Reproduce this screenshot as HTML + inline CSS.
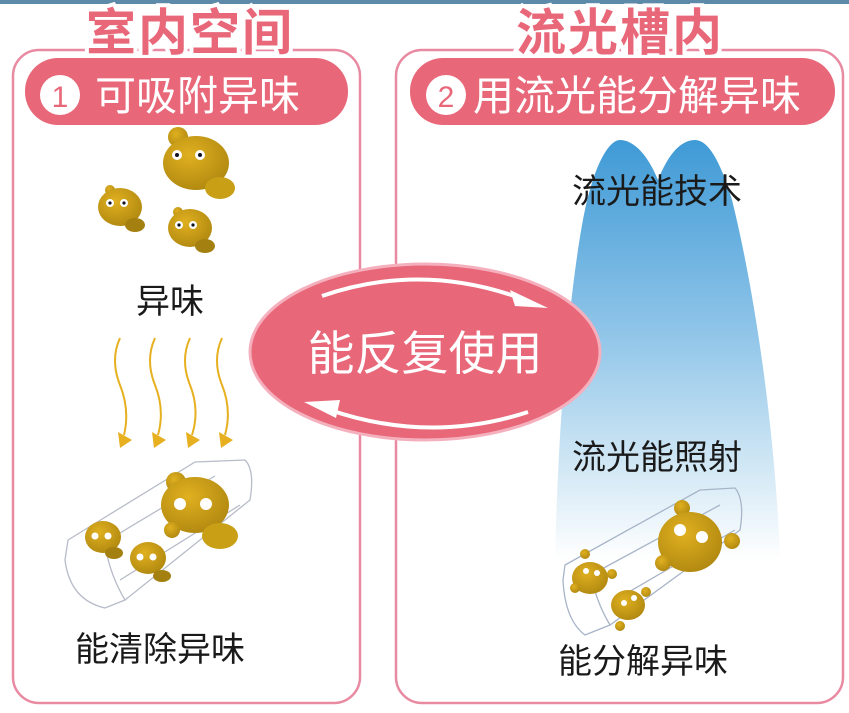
<!DOCTYPE html>
<html><head><meta charset="utf-8"><style>
html,body{margin:0;padding:0;background:#fff;width:849px;height:713px;overflow:hidden}
text{font-family:"Liberation Sans","Noto Sans CJK SC",sans-serif}
</style></head><body>
<svg width="849" height="713" viewBox="0 0 849 713" xmlns="http://www.w3.org/2000/svg">
<defs>
<linearGradient id="blue" x1="0" y1="0" x2="0" y2="1">
<stop offset="0" stop-color="#3f9ad6"/><stop offset="0.45" stop-color="#8ec4e8"/><stop offset="0.8" stop-color="#d6eaf6"/><stop offset="1" stop-color="#ffffff"/></linearGradient>
<radialGradient id="gold" cx="0.4" cy="0.35" r="0.7"><stop offset="0" stop-color="#e0b020"/><stop offset="1" stop-color="#b08810"/></radialGradient>
</defs>
<rect x="0" y="0" width="849" height="4" fill="#5d8aa8"/>
<rect x="13" y="50" width="347" height="653" rx="26" fill="none" stroke="#e98aa3" stroke-width="2.5"/>
<rect x="396" y="50" width="447" height="653" rx="26" fill="none" stroke="#e98aa3" stroke-width="2.5"/>
<g font-size="50" font-weight="bold" text-anchor="middle" fill="#e8687a" stroke="#fff" stroke-width="8" paint-order="stroke" letter-spacing="2">
<text x="190" y="50">室内空间</text>
<text x="620" y="50">流光槽内</text>
</g>
<rect x="25" y="58" width="323" height="67" rx="33" fill="#e8687a"/>
<circle cx="60" cy="95" r="20" fill="#fff"/>
<text x="60" y="107" font-size="30" fill="#e8687a" text-anchor="middle">1</text>
<text x="95" y="110" font-size="41" fill="#fff">可吸附异味</text>
<rect x="410" y="58" width="425" height="67" rx="33" fill="#e8687a"/>
<circle cx="446" cy="95" r="20" fill="#fff"/>
<text x="446" y="107" font-size="30" fill="#e8687a" text-anchor="middle">2</text>
<text x="473" y="110" font-size="41" fill="#fff">用流光能分解异味</text>
<path d="M555,560 C560,350 580,220 590,190 C598,160 610,140 620,140 C636,140 650,160 658,180 C666,160 678,140 695,140 C708,140 720,160 732,200 C752,280 775,420 780,560 Z" fill="url(#blue)"/>
<ellipse cx="425" cy="352" rx="175" ry="88" fill="#e8687a" stroke="#f5b0bd" stroke-width="3"/>
<path d="M322,296 Q420,262 520,298" fill="none" stroke="#fff" stroke-width="4"/>
<polygon points="548,308 510,290 515,306" fill="#fff"/>
<path d="M528,412 Q430,444 330,410" fill="none" stroke="#fff" stroke-width="4"/>
<polygon points="304,402 340,400 336,418" fill="#fff"/>
<text x="425" y="370" font-size="47" fill="#fff" text-anchor="middle">能反复使用</text>
<g font-size="34" fill="#1a1a1a" text-anchor="middle">
<text x="170" y="313">异味</text>
<text x="160" y="661">能清除异味</text>
<text x="657" y="203">流光能技术</text>
<text x="657" y="469">流光能照射</text>
<text x="643" y="673">能分解异味</text>
</g>
<g fill="none" stroke="#e6b020" stroke-width="2">
<path d="M120,338 Q110,360 120,385 Q130,410 124,435"/>
<path d="M155,338 Q145,360 155,385 Q165,410 158,435"/>
<path d="M190,338 Q180,360 190,385 Q200,410 192,435"/>
<path d="M222,338 Q212,360 222,385 Q232,410 225,435"/>
</g>
<g fill="#e6b020">
<polygon points="118,432 132,440 120,448"/><polygon points="152,432 166,440 154,448"/>
<polygon points="186,432 200,440 188,448"/><polygon points="219,432 233,440 221,448"/>
</g>
<g fill="url(#gold)">
<circle cx="178" cy="137" r="10"/><ellipse cx="196" cy="163" rx="33" ry="27"/><ellipse cx="220" cy="188" rx="15" ry="11" fill="#c9a015"/>
<circle cx="110" cy="190" r="5"/><ellipse cx="120" cy="207" rx="22" ry="19"/><ellipse cx="135" cy="225" rx="10" ry="7" fill="#a48010"/>
<circle cx="178" cy="212" r="5"/><ellipse cx="190" cy="228" rx="22" ry="19"/><ellipse cx="205" cy="246" rx="10" ry="7" fill="#a48010"/>
</g>
<g fill="#fff"><circle cx="177" cy="155" r="5"/><circle cx="200" cy="155" r="5"/><circle cx="110" cy="203" r="4"/><circle cx="124" cy="203" r="4"/><circle cx="179" cy="225" r="4"/><circle cx="193" cy="225" r="4"/></g>
<g fill="#112"><circle cx="177" cy="155" r="2"/><circle cx="200" cy="155" r="2"/><circle cx="110" cy="203" r="1.6"/><circle cx="124" cy="203" r="1.6"/><circle cx="179" cy="225" r="1.6"/><circle cx="193" cy="225" r="1.6"/></g>
<g fill="none" stroke="#b8bcc8" stroke-width="1.3">
<path d="M68,540 L195,462 L245,460 Q255,470 250,500 L125,600 L105,608 Q70,600 65,560 Z"/>
<path d="M100,545 L215,476"/><path d="M125,600 Q110,575 105,545"/>
<path d="M120,580 L240,505"/>
</g>
<g fill="url(#gold)">
<circle cx="176" cy="482" r="10"/><ellipse cx="195" cy="505" rx="34" ry="28"/><ellipse cx="220" cy="536" rx="18" ry="13" fill="#c9a015"/><circle cx="172" cy="530" r="8"/>
<ellipse cx="103" cy="537" rx="18" ry="16"/><ellipse cx="114" cy="553" rx="9" ry="6" fill="#a48010"/>
<ellipse cx="148" cy="558" rx="18" ry="16"/><ellipse cx="162" cy="576" rx="9" ry="6" fill="#a48010"/>
</g>
<g fill="#fff"><circle cx="180" cy="504" r="6"/><circle cx="206" cy="504" r="6"/><circle cx="95" cy="536" r="3.5"/><circle cx="108" cy="536" r="3.5"/><circle cx="140" cy="557" r="3.5"/><circle cx="153" cy="557" r="3.5"/></g>
<g fill="none" stroke="#a8b4c8" stroke-width="1.3">
<path d="M565,565 L700,490 L735,488 Q745,500 740,530 L610,625 L585,635 Q565,620 563,580 Z"/>
<path d="M600,570 L720,505"/><path d="M610,625 Q595,600 590,570"/><path d="M615,600 L735,530"/>
</g>
<g fill="url(#gold)">
<circle cx="682" cy="508" r="8"/><ellipse cx="690" cy="542" rx="32" ry="30"/><circle cx="663" cy="563" r="8"/><circle cx="732" cy="541" r="8"/>
<ellipse cx="590" cy="578" rx="18" ry="16"/><circle cx="585" cy="554" r="5"/><circle cx="575" cy="588" r="5"/><circle cx="612" cy="574" r="5"/>
<ellipse cx="628" cy="605" rx="17" ry="15"/><circle cx="646" cy="592" r="5"/><circle cx="620" cy="626" r="5"/>
</g>
<g fill="#fff"><circle cx="680" cy="530" r="6"/><circle cx="702" cy="537" r="6"/><circle cx="586" cy="571" r="3"/><circle cx="597" cy="573" r="3"/><circle cx="624" cy="603" r="3"/><circle cx="634" cy="598" r="3"/></g>
</svg>
</body></html>
